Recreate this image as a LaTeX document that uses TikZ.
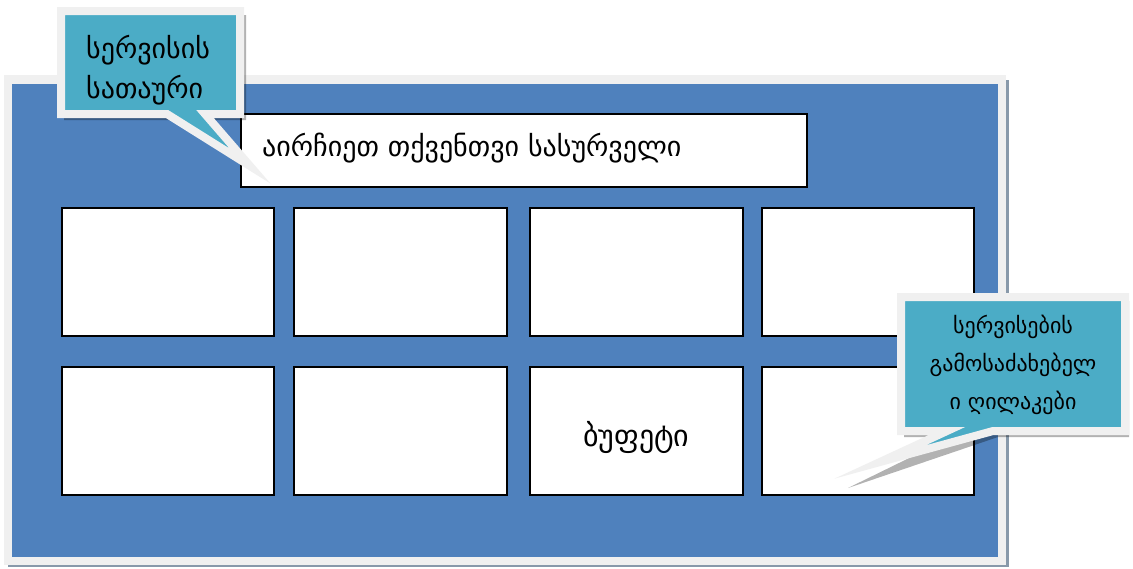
\documentclass[tikz,border=0pt]{standalone}
\usepackage{fontspec}
\setmainfont{DejaVu Sans}
\definecolor{panelblue}{HTML}{4F81BD}
\definecolor{frame}{HTML}{F0F0F0}
\definecolor{callteal}{HTML}{4BACC6}
\definecolor{shadowc}{HTML}{8899AA}
\tikzset{
  tile/.style={draw=black, line width=1.6pt, fill=white},
  calloutshape/.style={fill=callteal, draw=frame, line width=8pt, line join=miter, miter limit=30},
  callshadow/.style={fill=black, fill opacity=0.3, draw=none},
  lbl/.style={font=\fontsize{28}{34}\selectfont, inner sep=0pt},
}
\begin{document}
\begin{tikzpicture}[x=1pt,y=-1pt]
\useasboundingbox (0,0) rectangle (1133,568);
% panel shadow and frame
\fill[shadowc] (8,80) rectangle (1009,567);
\fill[frame] (4,75) rectangle (1006,565);
\fill[panelblue] (12,84) rectangle (998,557);
% title box
\node[tile, minimum width=566pt, minimum height=73pt, anchor=north west] (title) at (240,113) {};
\node[lbl, anchor=west] (titletext) at (262,148) {აირჩიეთ თქვენთვი სასურველი};
% tiles
\node[tile, minimum width=212pt, minimum height=128pt, anchor=north west] (t1) at (61,207) {};
\node[tile, minimum width=213pt, minimum height=128pt, anchor=north west] (t2) at (293,207) {};
\node[tile, minimum width=213pt, minimum height=128pt, anchor=north west] (t3) at (529,207) {};
\node[tile, minimum width=212pt, minimum height=128pt, anchor=north west] (t4) at (761,207) {};
\node[tile, minimum width=212pt, minimum height=128pt, anchor=north west] (t5) at (61,366) {};
\node[tile, minimum width=213pt, minimum height=128pt, anchor=north west] (t6) at (293,366) {};
\node[tile, minimum width=213pt, minimum height=128pt, anchor=north west] (t7) at (529,366) {};
\node[lbl, font=\fontsize{30}{36}\selectfont] (t7text) at ([yshift=-7pt]t7.center) {ბუფეტი};
\node[tile, minimum width=212pt, minimum height=128pt, anchor=north west] (t8) at (761,366) {};
% callout 1
\fill[callshadow] (64,15) -- (246,15) -- (246,120) -- (211,120) -- (259,173) -- (171,120) -- (64,120) -- cycle;
\draw[calloutshape] (61,11) -- (240,11) -- (240,114) -- (205,114) -- (250,166) -- (167,114) -- (61,114) -- cycle;
\node[lbl, anchor=west, align=left, font=\fontsize{28}{40}\selectfont] (c1) at (86,70) {სერვისის\\სათაური};
% callout 2
\fill[callshadow] (904,301) -- (1129,301) -- (1129,437) -- (998,437) -- (848,488) -- (952,437) -- (904,437) -- cycle;
\draw[calloutshape] (901,297) -- (1125,297) -- (1125,431) -- (993,431) -- (880,462) -- (947,431) -- (901,431) -- cycle;
\node[inner sep=0pt, align=center, font=\fontsize{22}{38}\selectfont] (c2) at (1013,365) {სერვისების\\გამოსაძახებელ\\ი ღილაკები};
\end{tikzpicture}
\end{document}
